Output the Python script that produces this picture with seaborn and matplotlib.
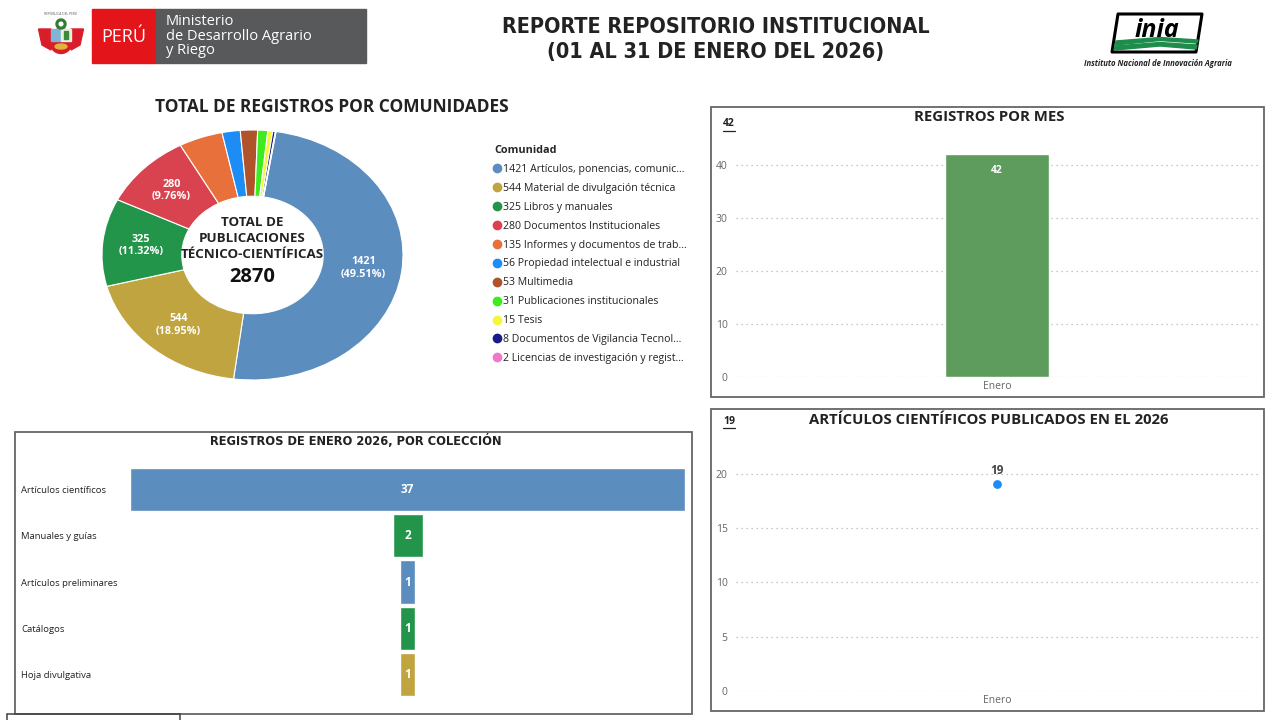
import matplotlib
matplotlib.use('Agg')
from matplotlib import pyplot as plt
from matplotlib import font_manager as fm
from matplotlib.patches import Rectangle, Ellipse, Polygon, Wedge
from matplotlib.lines import Line2D
import seaborn as sns
import pandas as pd

# --- datos ---
com_valores = [1421, 544, 325, 280, 135, 56, 53, 31, 15, 8, 2]
com_nombres = ['Artículos, ponencias, comunic...', 'Material de divulgación técnica',
               'Libros y manuales', 'Documentos Institucionales',
               'Informes y documentos de trab...', 'Propiedad intelectual e industrial',
               'Multimedia', 'Publicaciones institucionales', 'Tesis',
               'Documentos de Vigilancia Tecnol...', 'Licencias de investigación y regist...']
com_colores = ['#5B8DBE', '#C0A43F', '#23954A', '#D9434F', '#E8703A', '#1E8CF5',
               '#B0522A', '#3DEB1E', '#F5F53A', '#1A1A8C', '#F078C8']

meses = ['Enero']
registros_mes = [42]
articulos_mes = [19]

colecciones = ['Artículos científicos', 'Manuales y guías', 'Artículos preliminares',
               'Catálogos', 'Hoja divulgativa']
registros_coleccion = [37, 2, 1, 1, 1]
colores_coleccion = ['#5B8DBE', '#23954A', '#5B8DBE', '#23954A', '#C0A43F']

W, H = 1280, 720
FONT = ['Open Sans', 'DejaVu Sans']

# fuente estrecha si existe (DejaVu Sans Condensed), si no se reduce el tamano
_cond = fm.findfont(fm.FontProperties(family='DejaVu Sans', stretch='condensed', weight='bold'))
if 'Condensed' in _cond:
    NARROW = dict(family='DejaVu Sans', fontstretch='condensed')
    K = 1.0
else:
    NARROW = dict(family=['DejaVu Sans'])
    K = 0.89


def fx(px):
    return px / W


def fy(py):
    return 1 - py / H


def caja(x0, y0, x1, y1):
    return [x0 / W, 1 - y1 / H, (x1 - x0) / W, (y1 - y0) / H]


sns.set_style('white')
plt.rcParams['font.family'] = FONT
fig = plt.figure(figsize=(12.8, 7.2), dpi=100)
fig.patch.set_facecolor('white')

# --- cabecera: logo Peru ---
axl = fig.add_axes(caja(36, 10, 86, 60))
axl.set_xlim(0, 1)
axl.set_ylim(0, 1)
axl.axis('off')
axl.add_patch(Polygon([[0.05, 0.62], [0.3, 0.62], [0.3, 0.2], [0.12, 0.3]], color='#D91E2A'))
axl.add_patch(Polygon([[0.95, 0.62], [0.7, 0.62], [0.7, 0.2], [0.88, 0.3]], color='#D91E2A'))
axl.add_patch(Ellipse((0.5, 0.38), 0.46, 0.5, color='#D91E2A'))
axl.add_patch(Rectangle((0.3, 0.38), 0.2, 0.24, color='#7FB6D8'))
axl.add_patch(Rectangle((0.5, 0.38), 0.2, 0.24, color='#E8F1E0'))
axl.add_patch(Rectangle((0.56, 0.42), 0.08, 0.16, color='#3C8A3C'))
axl.add_patch(Ellipse((0.5, 0.27), 0.24, 0.1, color='#E2B33A'))
axl.add_patch(Wedge((0.5, 0.72), 0.1, 0, 360, width=0.035, color='#2E7D32'))
axl.text(0.5, 0.92, 'REPÚBLICA DEL PERÚ', ha='center', va='center', fontsize=2.3, color='#555')

fig.add_artist(Rectangle((fx(92), fy(63)), fx(156) - fx(92), (63 - 9) / H,
                         transform=fig.transFigure, color='#E3151A'))
fig.add_artist(Rectangle((fx(156), fy(63)), fx(366) - fx(156), (63 - 9) / H,
                         transform=fig.transFigure, color='#58595B'))
fig.text(fx(124), fy(37), 'PERÚ', ha='center', va='center', color='white', fontsize=13)
fig.text(fx(166), fy(36), 'Ministerio\nde Desarrollo Agrario\ny Riego', ha='left', va='center',
         color='white', fontsize=10.5, linespacing=0.95)

# --- titulo ---
fig.text(fx(716), fy(27), 'REPORTE REPOSITORIO INSTITUCIONAL', ha='center', va='center',
         fontsize=15.5 * K, fontweight='bold', color='#222', **NARROW)
fig.text(fx(716), fy(52), '(01 AL 31 DE ENERO DEL 2026)', ha='center', va='center',
         fontsize=15.5 * K, fontweight='bold', color='#222', **NARROW)

# --- logo inia ---
axi = fig.add_axes(caja(1100, 10, 1215, 58))
axi.set_xlim(0, 115)
axi.set_ylim(48, 0)
axi.axis('off')
axi.add_patch(Polygon([[18, 4], [102, 4], [96, 42], [12, 42]], closed=True, fill=False,
                      ec='black', lw=2.2, joinstyle='round'))
axi.text(57, 27, 'inia', ha='center', va='baseline', fontsize=18, fontweight='bold',
         style='italic', color='black')
axi.add_patch(Polygon([[16, 31], [60, 27.5], [98, 30], [97, 33], [60, 30.5], [15, 35]], color='#1E8C4A'))
axi.add_patch(Polygon([[15, 36], [60, 32.5], [97, 35], [96, 39], [60, 36], [14, 40]], color='#1E8C4A'))
fig.text(fx(1158), fy(63), 'Instituto Nacional de Innovación Agraria', ha='center', va='center',
         fontsize=5.6, fontweight='bold', style='italic', color='#222')

# --- donut comunidades ---
fig.text(fx(332), fy(107), 'TOTAL DE REGISTROS POR COMUNIDADES', ha='center', va='center',
         fontsize=12.5, fontweight='bold', color='#222')
axd = fig.add_axes(caja(102, 130, 403, 380))
total = sum(com_valores)


def etiqueta(pct):
    v = int(round(pct * total / 100))
    return f'{v}\n({pct:.2f}%)' if pct > 9 else ''


wedges, _, autot = axd.pie(com_valores, colors=com_colores, startangle=81, counterclock=False,
                           wedgeprops=dict(width=0.53, edgecolor='white', linewidth=0.8),
                           autopct=etiqueta, pctdistance=0.745,
                           textprops=dict(color='white', fontsize=7.8, fontweight='bold'))
axd.set_aspect('auto')
axd.set_xlim(-1, 1)
axd.set_ylim(-1, 1)
for yy, txt in [(0.264, 'TOTAL DE'), (0.136, 'PUBLICACIONES'), (0.008, 'TÉCNICO-CIENTÍFICAS')]:
    axd.text(0, yy, txt, ha='center', va='center', fontsize=9.6, fontweight='bold', color='#222')
axd.text(0, -0.176, str(total), ha='center', va='center', fontsize=14.5, fontweight='bold', color='#111')

handles = [Line2D([], [], marker='o', ls='', color=c, markersize=6) for c in com_colores]
labels = [f'{v} {n}' for v, n in zip(com_valores, com_nombres)]
leg = fig.legend(handles, labels, loc='upper left', bbox_to_anchor=(fx(494), fy(145)),
                 frameon=False, title='Comunidad', alignment='left', fontsize=7.6,
                 title_fontproperties={'weight': 'bold', 'size': 7.8},
                 handlelength=0.55, handletextpad=0.3, labelspacing=0.75,
                 borderpad=0, borderaxespad=0)
for t in leg.get_texts():
    t.set_color('#222')


def marco(x0, y0, x1, y1):
    fig.add_artist(Rectangle((fx(x0), fy(y1)), (x1 - x0) / W, (y1 - y0) / H,
                             transform=fig.transFigure, fill=False, ec='#666', lw=1.3))


def estilo_eje(ax):
    ax.yaxis.grid(True, linestyle=(0, (1, 3)), color='#b5b5b5', lw=0.9)
    ax.set_axisbelow(True)
    sns.despine(ax=ax, left=True, bottom=True)
    ax.tick_params(length=0, labelsize=7.5, labelcolor='#666', pad=6)
    ax.set_xlabel('')
    ax.set_ylabel('')


def subrayar(t):
    fig.canvas.draw()
    bb = t.get_window_extent()
    fig.add_artist(Line2D([bb.x0 / W, bb.x1 / W], [(bb.y0 - 1) / H] * 2,
                          transform=fig.transFigure, color='#222', lw=0.9))


# --- registros por mes ---
marco(711, 107, 1264, 397)
fig.text(fx(989), fy(117), 'REGISTROS POR MES', ha='center', va='center', fontsize=10.7,
         fontweight='bold', color='#222')
t42 = fig.text(fx(723), fy(124), str(sum(registros_mes)), ha='left', va='center', fontsize=7.5,
               fontweight='bold', color='#222')
ax2 = fig.add_axes(caja(736, 138, 1258, 377))
df_mes = pd.DataFrame({'Mes': meses, 'Registros': registros_mes})
sns.barplot(data=df_mes, x='Mes', y='Registros', color='#5E9C5E', saturation=1, width=0.2, ax=ax2)
ax2.set_ylim(0, 45)
ax2.set_yticks([0, 10, 20, 30, 40])
ax2.bar_label(ax2.containers[0], padding=-16, color='white', fontsize=7.5, fontweight='bold')
estilo_eje(ax2)
ax2.tick_params(axis='x', pad=3)

# --- articulos cientificos 2026 ---
marco(711, 409, 1264, 711)
fig.text(fx(989), fy(420), 'ARTÍCULOS CIENTÍFICOS PUBLICADOS EN EL 2026', ha='center', va='center',
         fontsize=10.7, fontweight='bold', color='#222')
t19 = fig.text(fx(723), fy(421), str(sum(articulos_mes)), ha='left', va='center', fontsize=7.5,
               fontweight='bold', color='#222')
ax3 = fig.add_axes(caja(736, 441, 1258, 691))
df_art = pd.DataFrame({'Mes': meses, 'Articulos': articulos_mes})
sns.scatterplot(data=df_art, x='Mes', y='Articulos', color='#1E8CF5', s=40, linewidth=0, ax=ax3)
ax3.set_xlim(-0.5, 0.5)
ax3.set_ylim(0, 23)
ax3.set_yticks([0, 5, 10, 15, 20])
for m, v in zip(meses, articulos_mes):
    ax3.annotate(str(v), (m, v), xytext=(0, 10), textcoords='offset points', ha='center',
                 va='center', fontsize=8.5, fontweight='bold', color='#444')
estilo_eje(ax3)
ax3.tick_params(axis='x', pad=3)

# --- registros por coleccion ---
marco(15, 432, 692, 714)
fig.text(fx(356), fy(441), 'REGISTROS DE ENERO 2026, POR COLECCIÓN', ha='center', va='center',
         fontsize=9.2 * K, fontweight='bold', color='#222', **NARROW)
ax4 = fig.add_axes(caja(130, 466, 685, 698))
df_col = pd.DataFrame({'Coleccion': colecciones, 'Registros': registros_coleccion})
sns.barplot(data=df_col, y='Coleccion', x='Registros', hue='Coleccion', palette=colores_coleccion,
            legend=False, saturation=1, width=0.93, ax=ax4)
for p, v in zip(ax4.patches, registros_coleccion):
    p.set_x(-p.get_width() / 2)
    ax4.text(0, p.get_y() + p.get_height() / 2, str(v), ha='center', va='center',
             color='white', fontsize=8.5, fontweight='bold')
mx = max(registros_coleccion)
ax4.set_xlim(-mx / 2, mx / 2)
ax4.set_ylim(len(colecciones) - 0.5, -0.5)
sns.despine(ax=ax4, left=True, bottom=True)
ax4.set_xticks([])
ax4.set_xlabel('')
ax4.set_ylabel('')
ax4.tick_params(axis='y', length=0, labelsize=6.8, labelcolor='#222', pad=(130 - 21) * 0.72)
for lbl in ax4.get_yticklabels():
    lbl.set_ha('left')

# recuadro cortado abajo
for xs, ys in [([7, 180], [714, 714]), ([7, 7], [714, 720]), ([180, 180], [714, 720])]:
    fig.add_artist(Line2D([fx(x) for x in xs], [fy(y) for y in ys], transform=fig.transFigure,
                          color='#444', lw=1.1))

subrayar(t42)
subrayar(t19)

fig.savefig('out.png', dpi=100, facecolor='white')
